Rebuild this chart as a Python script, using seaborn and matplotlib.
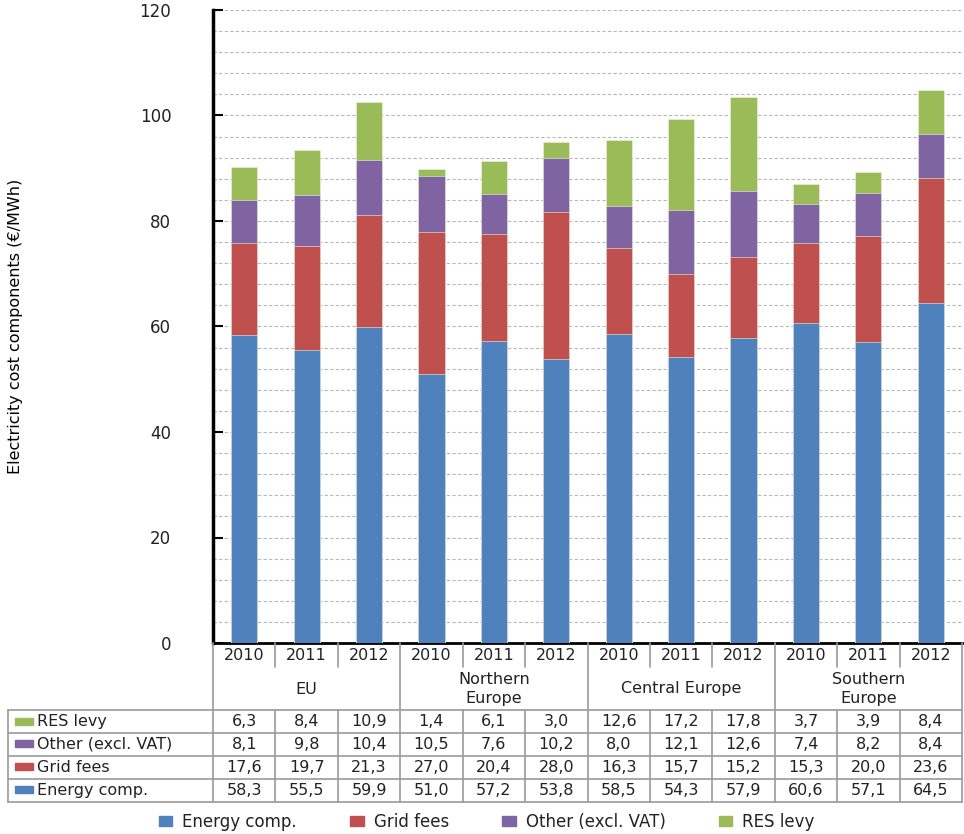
# Electricity cost components by region and year - stacked bars with data table
import numpy as np
import pandas as pd
import matplotlib
matplotlib.use("Agg")
import matplotlib.pyplot as plt
import matplotlib.patches as mpatches
import seaborn as sns

# data
groups = ["EU", "Northern\nEurope", "Central Europe", "Southern\nEurope"]
years = ["2010", "2011", "2012"]
energy = [58.3, 55.5, 59.9, 51.0, 57.2, 53.8, 58.5, 54.3, 57.9, 60.6, 57.1, 64.5]
grid = [17.6, 19.7, 21.3, 27.0, 20.4, 28.0, 16.3, 15.7, 15.2, 15.3, 20.0, 23.6]
other = [8.1, 9.8, 10.4, 10.5, 7.6, 10.2, 8.0, 12.1, 12.6, 7.4, 8.2, 8.4]
res = [6.3, 8.4, 10.9, 1.4, 6.1, 3.0, 12.6, 17.2, 17.8, 3.7, 3.9, 8.4]
series_names = ["Energy comp.", "Grid fees", "Other (excl. VAT)", "RES levy"]
colors = ["#4F81BD", "#C0504D", "#8064A2", "#9BBB59"]

sns.set_theme(style="white")
plt.rcParams["font.family"] = ["DejaVu Sans"]

cats = [f"{g} {y}" for g in groups for y in years]
df = pd.DataFrame({"cat": cats, "Energy comp.": energy, "Grid fees": grid,
                   "Other (excl. VAT)": other, "RES levy": res})

fig = plt.figure(figsize=(9.64, 8.34), dpi=100)
W, H = 964, 834
x0, x1, ytop, ybot = 213, 962, 10, 643
ax = fig.add_axes([x0 / W, 1 - ybot / H, (x1 - x0) / W, (ybot - ytop) / H])

# stacked bars: draw cumulative totals, tallest first
cum = df[series_names].cumsum(axis=1)
for name, col in reversed(list(zip(series_names, colors))):
    sns.barplot(x=df["cat"], y=cum[name], order=cats, color=col, saturation=1,
                width=0.42, ax=ax, edgecolor="#eef3e6", linewidth=0.4, zorder=3)

ax.set_xlim(-0.5, len(cats) - 0.5)
ax.set_ylim(0, 120)
ax.set_yticks(range(0, 121, 20))
ax.set_yticks(range(0, 121, 4), minor=True)
ax.set_xticks([])
ax.set_xlabel("")
ax.set_ylabel("Electricity cost components (€/MWh)", fontsize=11.5, color="black",
              labelpad=84)
ax.grid(axis="y", which="both", color="#b8b8b8", linestyle=(0, (3, 2)), linewidth=0.8, zorder=0)
ax.tick_params(axis="y", which="major", direction="in", length=7, width=1.5,
               labelsize=12, colors="black", pad=30, left=True)
ax.tick_params(axis="y", which="minor", length=0)
for tl in ax.get_yticklabels():
    tl.set_color("#222222")
for s in ["top", "right"]:
    ax.spines[s].set_visible(False)
ax.spines["left"].set_linewidth(2.5)
ax.spines["left"].set_color("black")
ax.spines["bottom"].set_linewidth(2)
ax.spines["bottom"].set_color("black")

# data table below the bars
tl_px = 8
step = (x1 - x0) / len(cats)
left_d = -0.5 - (x0 - tl_px) / step
tb_top, tb_bot = ybot, 802
tax = fig.add_axes([tl_px / W, 1 - tb_bot / H, (x1 - tl_px) / W, (tb_bot - tb_top) / H])
tax.set_xlim(left_d, len(cats) - 0.5)
tax.set_ylim(tb_bot, tb_top)
tax.axis("off")

lc = "#9a9a9a"
row_lines = [710, 733, 755.5, 778.5, 802]
for yy in row_lines:
    tax.plot([left_d, len(cats) - 0.5], [yy, yy], color=lc, lw=1.2, clip_on=False)
tax.plot([left_d, left_d], [row_lines[0], row_lines[-1]], color=lc, lw=1.2, clip_on=False)
# group borders (full height) and year borders
for i in range(len(cats) + 1):
    xb = i - 0.5
    if i % 3 == 0:
        tax.plot([xb, xb], [tb_top, tb_bot], color=lc, lw=1.2, clip_on=False)
    else:
        tax.plot([xb, xb], [tb_top, 667], color=lc, lw=1.2, clip_on=False)
        tax.plot([xb, xb], [row_lines[0], tb_bot], color=lc, lw=1.2, clip_on=False)

tfs = 11.5
for i, c in enumerate(cats):
    tax.text(i, 656, years[i % 3], ha="center", va="center", fontsize=tfs, color="#222222")
for g, name in enumerate(groups):
    tax.text(3 * g + 1, 689, name, ha="center", va="center", fontsize=tfs,
             color="#222222", linespacing=1.25)

table_rows = [("RES levy", res, colors[3]), ("Other (excl. VAT)", other, colors[2]),
              ("Grid fees", grid, colors[1]), ("Energy comp.", energy, colors[0])]
for r, (name, vals, col) in enumerate(table_rows):
    yc = (row_lines[r] + row_lines[r + 1]) / 2
    tax.add_patch(mpatches.Rectangle((left_d + 7 / step, yc - 4), 18 / step, 7,
                                     color=col, clip_on=False))
    tax.text(left_d + 29 / step, yc, name, ha="left", va="center", fontsize=tfs, color="#222222")
    for i, v in enumerate(vals):
        tax.text(i, yc, f"{v:.1f}".replace(".", ","), ha="center", va="center",
                 fontsize=tfs, color="#222222")

# legend at the bottom
handles = [mpatches.Patch(color=c, label=n) for n, c in zip(series_names, colors)]
fig.legend(handles=handles, loc="center", bbox_to_anchor=(0.505, 1 - 822 / H), ncol=4,
           frameon=False, fontsize=12, handlelength=0.8, handleheight=0.5,
           handletextpad=0.6, columnspacing=3.2, labelcolor="#222222")

fig.savefig("out.png", dpi=100)
